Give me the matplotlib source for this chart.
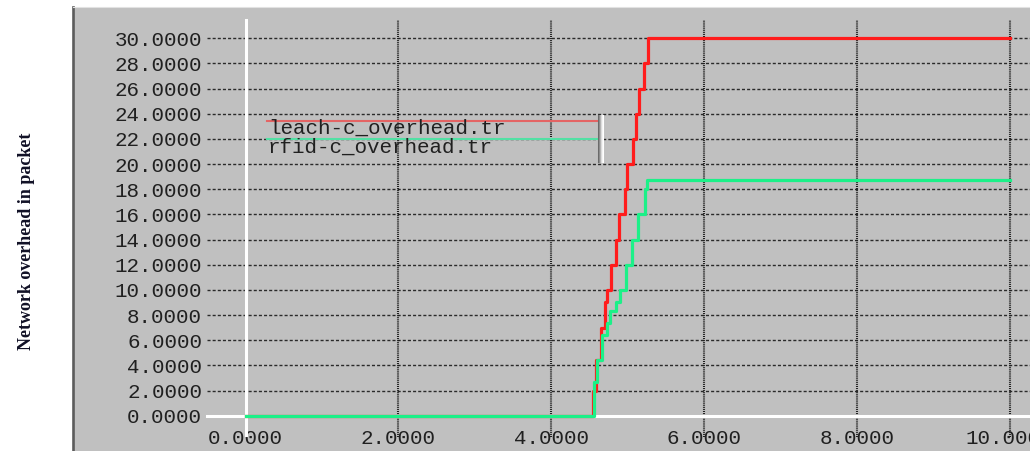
import matplotlib
matplotlib.use("Agg")
import matplotlib.pyplot as plt

# Cumulative network overhead (packets) over simulation time, stepwise
leach_time = [0.0, 4.552, 4.588, 4.653, 4.705, 4.736, 4.784, 4.849, 4.893,
              4.967, 4.997, 5.076, 5.111, 5.154, 5.220, 5.264, 10.0]
leach_overhead = [0.0, 2.0, 4.4, 7.0, 9.0, 10.0, 12.0, 14.0, 16.0,
                  18.0, 20.0, 22.0, 24.0, 26.0, 28.0, 30.0, 30.0]

rfid_time = [0.0, 4.561, 4.605, 4.662, 4.728, 4.771, 4.849, 4.902, 4.976,
             5.055, 5.141, 5.229, 5.259, 10.0]
rfid_overhead = [0.0, 2.7, 4.4, 6.4, 7.4, 8.3, 9.0, 10.0, 12.0,
                 14.0, 16.0, 18.0, 18.7, 18.7]

series_names = ["leach-c_overhead.tr", "rfid-c_overhead.tr"]
series_colors = ["#ff1c1c", "#1cf088"]
legend_colors = ["#e46464", "#52e0a4"]

x_ticks = [0, 2, 4, 6, 8, 10]
y_ticks = list(range(0, 31, 2))
x_tick_labels = [f"{v:.4f}" for v in x_ticks]
y_tick_labels = [f"{v:.4f}" for v in y_ticks]
y_title = "Network overhead in packet"

W, H = 1030, 451
fig = plt.figure(figsize=(W / 100, H / 100), dpi=100)
fig.patch.set_facecolor("white")

left_px, top_px = 73, 7
ax = fig.add_axes([left_px / W, 0, (W - left_px) / W, (H - top_px) / H])
ax.set_facecolor("#c0c0c0")

x_min, x_max = -2.258, 10.268
y_min, y_max = -2.806, 32.49
ax.set_xlim(x_min, x_max)
ax.set_ylim(y_min, y_max)

for side in ("right", "bottom"):
    ax.spines[side].set_visible(False)
ax.spines["left"].set_color("#5c5c5c")
ax.spines["left"].set_linewidth(1.9)
ax.spines["top"].set_color("#e2e2e2")
ax.spines["top"].set_linewidth(0.8)

mono = ["Liberation Mono", "DejaVu Sans Mono"]

# Tick labels sit inside the grey panel
ax.set_xticks(x_ticks)
ax.set_xticklabels(x_tick_labels, fontfamily=mono, fontsize=15, color="#202020")
ax.set_yticks(y_ticks)
ax.set_yticklabels(y_tick_labels, fontfamily=mono, fontsize=15, color="#202020")
ax.tick_params(axis="y", length=0, pad=-92.9)
ax.tick_params(axis="x", length=0, pad=-16)

# Grid: dashed horizontal rules, densely dotted vertical rules
grid_x0 = -0.5
for y in y_ticks[1:]:
    ax.plot([grid_x0, x_max], [y, y], color="#2a2a2a", lw=1.0,
            dashes=(2.2, 1.5), zorder=1)
for x in x_ticks[1:]:
    ax.plot([x, x], [-1.69, 31.45], color="#1e1e1e", lw=1.5,
            dashes=(0.5, 0.5), zorder=1)

# White zero axes
ax.plot([0, 0], [-1.57, 31.45], color="white", lw=2.2, zorder=2)
ax.plot([grid_x0, x_max], [0, 0], color="white", lw=2.2, zorder=2)

# Series
ax.plot(leach_time, leach_overhead, drawstyle="steps-post",
        color=series_colors[0], lw=2.3, zorder=3)
ax.plot(rfid_time, rfid_overhead, drawstyle="steps-post",
        color=series_colors[1], lw=2.3, zorder=4)

# Legend block: coloured rule above each file name
def fpx(x, y):
    return x / W, 1 - y / H

rule_rows = [120.7, 139.0]
text_rows = [128.5, 147.0]
for name, col, ry, ty in zip(series_names, legend_colors, rule_rows, text_rows):
    x0, y0 = fpx(266.7, ry)
    x1, _ = fpx(597.0, ry)
    fig.add_artist(plt.Line2D([x0, x1], [y0, y0], color=col, lw=1.5))
    tx, tyf = fpx(268, ty)
    fig.text(tx, tyf, name, fontfamily=mono, fontsize=15, color="#202020",
             ha="left", va="center")

# Separator bar at the right of the legend
for dx, c in zip(range(6), ["#6a6a6a", "#8c8c8c", "#b4b4b4", "#dcdcdc", "#f4f4f4", "#ffffff"]):
    xa, ya = fpx(598 + dx, 115)
    _, yb = fpx(598 + dx, 162)
    fig.add_artist(plt.Line2D([xa, xa], [ya, yb], color=c, lw=0.75))

# Vertical axis title in the white margin
lx, ly = fpx(27, 241)
fig.text(lx, ly, y_title, rotation=90, ha="center", va="center",
         fontfamily=["Liberation Serif", "DejaVu Serif"], fontsize=13,
         fontweight="bold", color="#111126")

fig.savefig("out.png", dpi=100, facecolor="white")
